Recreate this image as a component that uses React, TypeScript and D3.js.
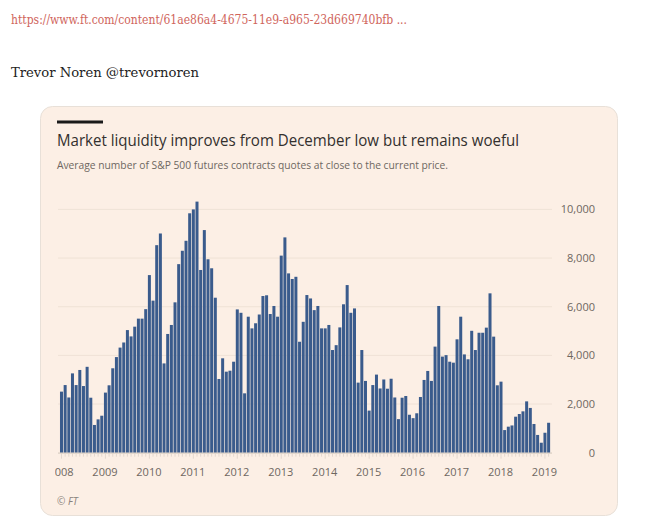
import React from "react";
import * as d3 from "d3";

const years = ["2008","2009","2010","2011","2012","2013","2014","2015","2016","2017","2018","2019"];
const values2008 = [2510, 2780, 2270, 3260, 2780, 3400, 2740, 3530, 2260, 1140, 1370, 1520];
const values2009 = [2470, 2770, 3470, 3930, 4320, 4530, 5040, 4780, 5180, 5510, 5510, 5900];
const values2010 = [7300, 6250, 8530, 9010, 3670, 4880, 5250, 6180, 7750, 8300, 8710, 9840];
const values2011 = [10000, 10320, 7510, 9150, 7950, 7580, 6370, 3030, 3880, 3330, 3370, 3740];
const values2012 = [5890, 5750, 2440, 5590, 5110, 5320, 5680, 6440, 6470, 5700, 6030, 5590];
const values2013 = [8100, 8850, 7370, 7140, 7230, 4560, 5380, 6480, 6340, 5860, 6030, 5110];
const values2014 = [5110, 5250, 4220, 4420, 5150, 6100, 6890, 5750, 5930, 2880, 4220, 2950];
const values2015 = [1730, 2780, 3210, 2640, 3010, 2630, 3040, 2270, 1380, 2260, 2330, 1560];
const values2016 = [1420, 1620, 2290, 2990, 3360, 2950, 4360, 6030, 3950, 4010, 3740, 3700];
const values2017 = [4660, 5590, 4040, 3840, 5010, 4220, 4930, 4930, 5140, 6550, 4770, 2770];
const values2018 = [2920, 930, 1070, 1120, 1480, 1590, 1700, 2110, 1840, 1180, 730, 410];
const values2019 = [820, 1230];
const yTicks = [0, 2000, 4000, 6000, 8000, 10000];

const values = [
  ...values2008, ...values2009, ...values2010, ...values2011, ...values2012, ...values2013,
  ...values2014, ...values2015, ...values2016, ...values2017, ...values2018, ...values2019,
];

export default function App() {
  const W = 646, H = 524;
  const x = d3.scaleBand<number>().domain(d3.range(values.length)).range([59.8, 550.3]).paddingInner(0.18).paddingOuter(0.05);
  const y = d3.scaleLinear().domain([0, 10000]).range([452.7, 209.4]);
  const fmt = d3.format(",");
  const step = x.step();
  const sans = "'Open Sans', 'Noto Sans', sans-serif";
  return (
    <svg width={W} height={H} style={{ position: "absolute", left: 0, top: 0 }}>
      <defs>
        <clipPath id="plotclip">
          <rect x={55} y={180} width={520} height={310} />
        </clipPath>
      </defs>
      <rect x={0} y={0} width={W} height={H} fill="#ffffff" />
      <text x={11} y={24} fontFamily="'DejaVu Serif', serif" fontSize={13} fill="#d0655c" textLength={396} lengthAdjust="spacingAndGlyphs">
        https://www.ft.com/content/61ae86a4-4675-11e9-a965-23d669740bfb ...
      </text>
      <text x={11} y={77} fontFamily="'DejaVu Serif', serif" fontSize={13} fill="#222" textLength={188} lengthAdjust="spacingAndGlyphs">
        Trevor Noren @trevornoren
      </text>
      <rect x={40.5} y={106.5} width={577} height={409} rx={12} ry={12} fill="#fcefe5" stroke="#e8e0d8" />
      <rect x={57} y={120.5} width={46} height={3} fill="#1a1a1a" />
      <text x={57} y={146} fontFamily={sans} fontSize={16.5} fill="#33302e" textLength={462} lengthAdjust="spacingAndGlyphs">
        Market liquidity improves from December low but remains woeful
      </text>
      <text x={57} y={169} fontFamily={sans} fontSize={11} fill="#6e6761" textLength={391} lengthAdjust="spacingAndGlyphs">
        Average number of S&amp;P 500 futures contracts quotes at close to the current price.
      </text>
      {yTicks.map((t) => (
        <g key={t}>
          <line x1={58} x2={552} y1={y(t)} y2={y(t)} stroke="#efe2d6" strokeWidth={1} />
          <text x={595} y={y(t) + 4} textAnchor="end" fontFamily={sans} fontSize={11} fill="#6e6761">
            {fmt(t)}
          </text>
        </g>
      ))}
      <g>
        {values.map((v, i) => (
          <rect key={i} x={x(i)} y={y(v)} width={x.bandwidth()} height={y(0) - y(v)} fill="#3a5b8c" />
        ))}
      </g>
      <line x1={58} x2={552} y1={y(0) + 0.5} y2={y(0) + 0.5} stroke="#d9cec4" />
      {values.map((_, i) => (
        <line key={"t" + i} x1={(x(i) as number) + x.bandwidth() / 2} x2={(x(i) as number) + x.bandwidth() / 2}
          y1={y(0) + 1} y2={y(0) + (i % 12 === 0 ? 6 : 4)} stroke="#ddd2c8" strokeWidth={0.8} />
      ))}
      <g clipPath="url(#plotclip)">
        {years.map((yr, k) => (
          <text key={yr} x={(x(k * 12) as number) + x.bandwidth() / 2 - 0.5} y={476} textAnchor="middle" fontFamily={sans} fontSize={11} fill="#6e6761">
            {yr}
          </text>
        ))}
      </g>
      <text x={57} y={505} fontFamily={sans} fontSize={10} fontStyle="italic" fill="#8a827c">
        © FT
      </text>
      <text x={0} y={0} fontSize={1} fill="none" style={{ display: "none" }}>{step}</text>
    </svg>
  );
}
